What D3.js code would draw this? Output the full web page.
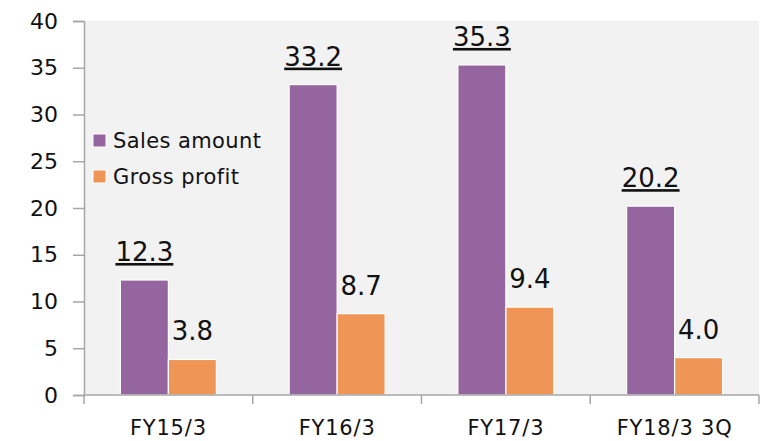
<!DOCTYPE html>
<html>
<head>
<meta charset="utf-8">
<script src="https://cdn.jsdelivr.net/npm/d3@7"></script>
<style>
  body { margin: 0; background: #fff; }
  text { font-family: "DejaVu Sans", Verdana, sans-serif; fill: #111; }
</style>
</head>
<body>
<div id="chart"></div>
<script>
// chart data
const categories = ['FY15/3', 'FY16/3', 'FY17/3', 'FY18/3 3Q'];
const seriesNames = ['Sales amount', 'Gross profit'];
const salesAmount = [12.3, 33.2, 35.3, 20.2];
const grossProfit = [3.8, 8.7, 9.4, 4.0];
const yTicks = [0, 5, 10, 15, 20, 25, 30, 35, 40];

const colors = ['#9565a0', '#ef9555'];
const W = 763, H = 441;
const margin = { top: 21, right: 4, bottom: 46, left: 84 };

const svg = d3.select('#chart').append('svg')
  .attr('width', W).attr('height', H);

const x = d3.scaleBand()
  .domain(categories)
  .range([margin.left, W - margin.right])
  .paddingInner(0).paddingOuter(0);

const y = d3.scaleLinear()
  .domain([0, 40])
  .range([H - margin.bottom, margin.top]);

// plot background
svg.append('rect')
  .attr('x', margin.left).attr('y', margin.top)
  .attr('width', W - margin.right - margin.left)
  .attr('height', y(0) - margin.top)
  .attr('fill', '#f2f2f2');

const barW = 48;
const rows = categories.map((c, i) => ({ cat: c, values: [salesAmount[i], grossProfit[i]] }));

const groups = svg.selectAll('g.cat').data(rows).join('g')
  .attr('class', 'cat')
  .attr('transform', d => `translate(${x(d.cat) + x.bandwidth() / 2 - barW},0)`);

groups.selectAll('rect').data(d => d.values).join('rect')
  .attr('x', (d, j) => j * barW)
  .attr('y', d => y(d))
  .attr('width', barW)
  .attr('height', d => y(0) - y(d))
  .attr('fill', (d, j) => colors[j])
  .attr('stroke', '#fff')
  .attr('stroke-width', 1.2);

groups.selectAll('text.val').data(d => d.values).join('text')
  .attr('class', 'val')
  .attr('x', (d, j) => j * barW + barW / 2)
  .attr('y', d => y(d) - 19)
  .attr('text-anchor', 'middle')
  .attr('font-size', 26)
  .attr('text-decoration', (d, j) => j === 0 ? 'underline' : null)
  .text(d => d.toFixed(1));

// y axis
const yAxis = svg.append('g')
  .attr('transform', `translate(${margin.left},0)`)
  .call(d3.axisLeft(y).tickValues(yTicks).tickSize(11).tickPadding(15));
yAxis.select('.domain').attr('stroke', '#a6a6a6').attr('stroke-width', 1.5);
yAxis.selectAll('.tick line').attr('stroke', '#a6a6a6').attr('stroke-width', 1.5);
yAxis.selectAll('.tick text').attr('font-size', 22).attr('fill', '#111')
  .attr('font-family', '"DejaVu Sans", Verdana, sans-serif');

// x axis: ticks at category boundaries
const bounds = categories.map(c => x(c)).concat([x(categories[categories.length - 1]) + x.bandwidth()]);
const xg = svg.append('g');
xg.append('line')
  .attr('x1', margin.left).attr('x2', W - margin.right)
  .attr('y1', y(0)).attr('y2', y(0))
  .attr('stroke', '#a6a6a6').attr('stroke-width', 1.5);
xg.selectAll('line.tk').data(bounds).join('line')
  .attr('class', 'tk')
  .attr('x1', d => d).attr('x2', d => d)
  .attr('y1', y(0)).attr('y2', y(0) + 9)
  .attr('stroke', '#a6a6a6').attr('stroke-width', 1.5);
xg.selectAll('text').data(categories).join('text')
  .attr('x', d => x(d) + x.bandwidth() / 2)
  .attr('y', y(0) + 40)
  .attr('text-anchor', 'middle')
  .attr('font-size', 21)
  .attr('letter-spacing', 0.8)
  .text(d => d);

// legend
const legend = svg.append('g').attr('transform', 'translate(93,134)');
const li = legend.selectAll('g').data(seriesNames).join('g')
  .attr('transform', (d, i) => `translate(0,${i * 36})`);
li.append('rect')
  .attr('width', 13).attr('height', 13)
  .attr('fill', (d, i) => colors[i])
  .attr('stroke', '#fff').attr('stroke-width', 1);
li.append('text')
  .attr('x', 20).attr('y', 14)
  .attr('font-size', 21)
  .attr('letter-spacing', 0.4)
  .text(d => d);
</script>
</body>
</html>
